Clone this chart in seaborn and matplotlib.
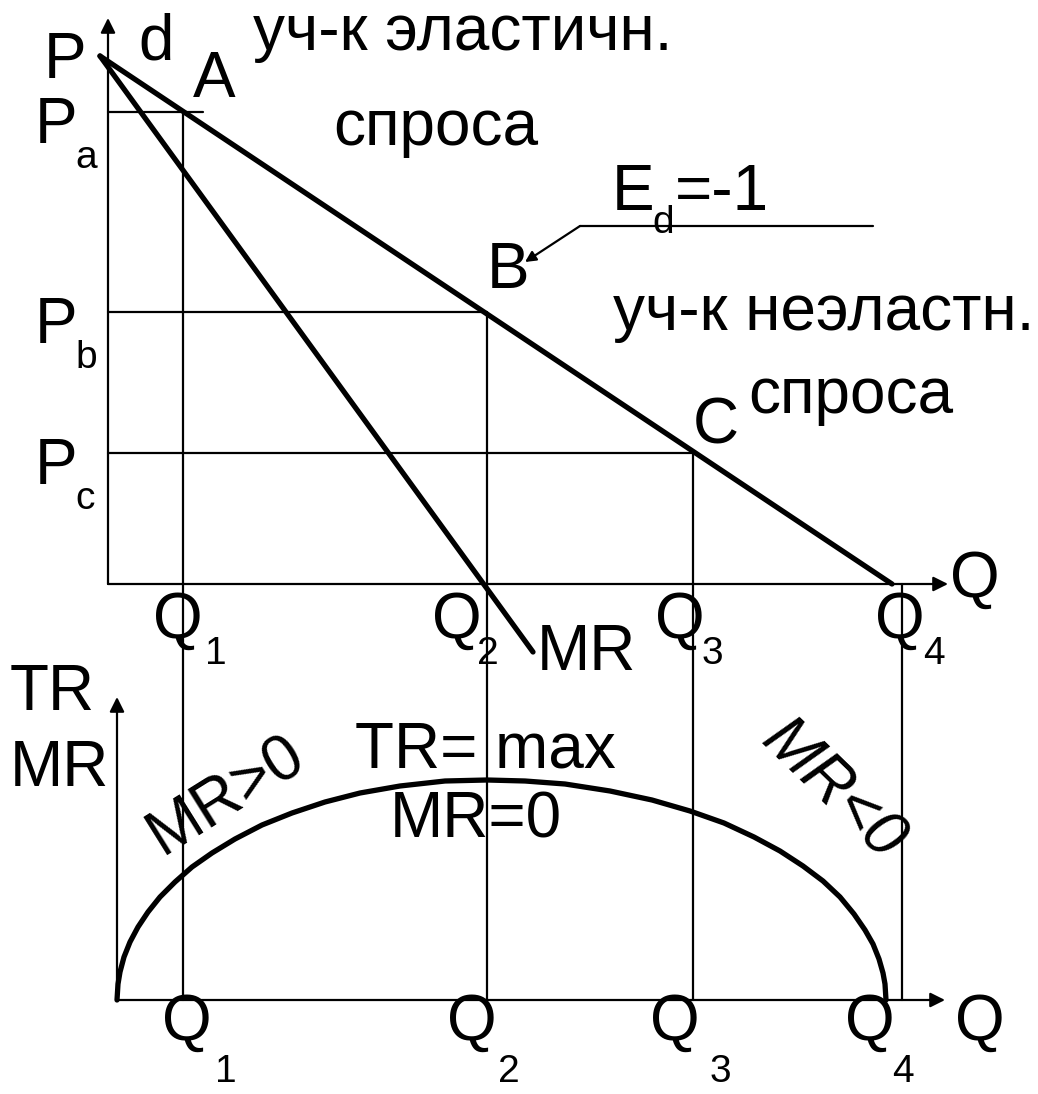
import numpy as np
import pandas as pd
import seaborn as sns
import matplotlib.pyplot as plt

# diagram, in pixel units (y grows downward)
origin_top = (108, 584)      # upper P-Q axes
origin_bot = (117, 1000)     # lower TR-Q axes
q_pos = [183, 487, 693, 902]         # Q1..Q4
p_pos = [112, 312, 453]              # Pa, Pb, Pc
p_names = ['a', 'b', 'c']

demand_x = [100, 892]
demand_y = [56, 584]
mr_x = [100, 533]
mr_y = [56, 652]

tr_x = [117, 118, 120, 124, 130, 138, 148, 160, 175, 192, 212, 235, 262, 292, 325, 360,
        400, 445, 487, 525, 565, 610, 652, 690, 724, 754, 780, 803, 823, 840, 854, 865,
        873, 879, 883, 885, 886]
tr_y = [1000, 984, 972, 957, 942, 927, 912, 897, 882, 867, 853, 839, 825, 813, 802, 793,
        786, 781, 780, 781, 784, 791, 800, 811, 823, 837, 851, 866, 881, 897, 914, 930,
        944, 959, 973, 984, 1000]

sns.set_style('white')
plt.rcParams['font.family'] = ['Liberation Sans', 'DejaVu Sans']
plt.rcParams['text.color'] = 'k'

fig = plt.figure(figsize=(10.38, 10.94), dpi=100)
ax = fig.add_axes([0, 0, 1, 1])
ax.set_xlim(0, 1038)
ax.set_ylim(1094, 0)
ax.axis('off')

BIG = 46
SUB = 28
thin = 1.6
thick = 3.8


def arrow(x0, y0, x1, y1):
    ax.annotate('', xy=(x1, y1), xytext=(x0, y0),
                arrowprops=dict(arrowstyle='-|>', lw=thin, color='k', mutation_scale=22,
                                shrinkA=0, shrinkB=0))


# axes
arrow(origin_top[0], origin_top[1], origin_top[0], 18)
arrow(origin_top[0], origin_top[1], 948, origin_top[1])
arrow(origin_bot[0], origin_bot[1], origin_bot[0], 697)
arrow(origin_bot[0], origin_bot[1], 945, origin_bot[1])

# guide lines
ax.plot([origin_top[0], 203], [p_pos[0], p_pos[0]], color='k', lw=thin)
ax.plot([origin_top[0], q_pos[1]], [p_pos[1], p_pos[1]], color='k', lw=thin)
ax.plot([origin_top[0], q_pos[2]], [p_pos[2], p_pos[2]], color='k', lw=thin)
for q, top in zip(q_pos, [p_pos[0], p_pos[1], p_pos[2], origin_top[1]]):
    ax.plot([q, q], [top, origin_bot[1]], color='k', lw=thin)

# demand, MR, TR
sns.lineplot(x=demand_x, y=demand_y, ax=ax, color='k', lw=thick, sort=False)
sns.lineplot(x=mr_x, y=mr_y, ax=ax, color='k', lw=thick, sort=False)
sns.lineplot(x=tr_x, y=tr_y, ax=ax, color='k', lw=thick, sort=False)

# E_d annotation
ax.plot([580, 873], [226, 226], color='k', lw=thin)
ax.annotate('', xy=(525, 262), xytext=(580, 226),
            arrowprops=dict(arrowstyle='-|>', lw=thin, color='k', mutation_scale=16,
                            shrinkA=0, shrinkB=0))


def txt(x, y, s, size=BIG, **kw):
    ax.text(x, y, s, fontsize=size, ha='left', va='baseline', color='k', **kw)


txt(44, 78, 'P')
txt(138, 60, 'd')
txt(193, 97, 'A')
txt(253, 50, 'уч-к эластичн.')
txt(333, 145, 'спроса')
for p, nm in zip(p_pos, p_names):
    txt(35, p + 31, 'P')
    txt(75, p + 56, nm, size=SUB)
txt(612, 210, 'E')
txt(652, 233, 'd', size=SUB)
txt(675, 210, '=-1')
txt(487, 288, 'B')
txt(613, 330, 'уч-к неэластн.')
txt(693, 443, 'C')
txt(748, 413, 'спроса')
txt(950, 597, 'Q')
txt(537, 670, 'MR')

# Q labels, upper and lower
for i, (ql, sl) in enumerate(zip([153, 432, 655, 875], [205, 477, 702, 923])):
    txt(ql, 638, 'Q')
    txt(sl, 664, str(i + 1), size=SUB)
for i, (ql, sl) in enumerate(zip([162, 447, 650, 845], [215, 498, 710, 892])):
    txt(ql, 1040, 'Q')
    txt(sl, 1082, str(i + 1), size=SUB)
txt(955, 1040, 'Q')

txt(10, 710, 'TR')
txt(10, 786, 'MR')
txt(355, 767, 'TR= max')
txt(390, 838, 'MR=0')
ax.text(226, 796, 'MR>0', fontsize=BIG, rotation=32, ha='center', va='center',
        rotation_mode='anchor', color='k')
ax.text(832, 790, 'MR<0', fontsize=BIG, rotation=-44, ha='center', va='center',
        rotation_mode='anchor', style='italic', color='k')

fig.savefig('out.png', dpi=100)
